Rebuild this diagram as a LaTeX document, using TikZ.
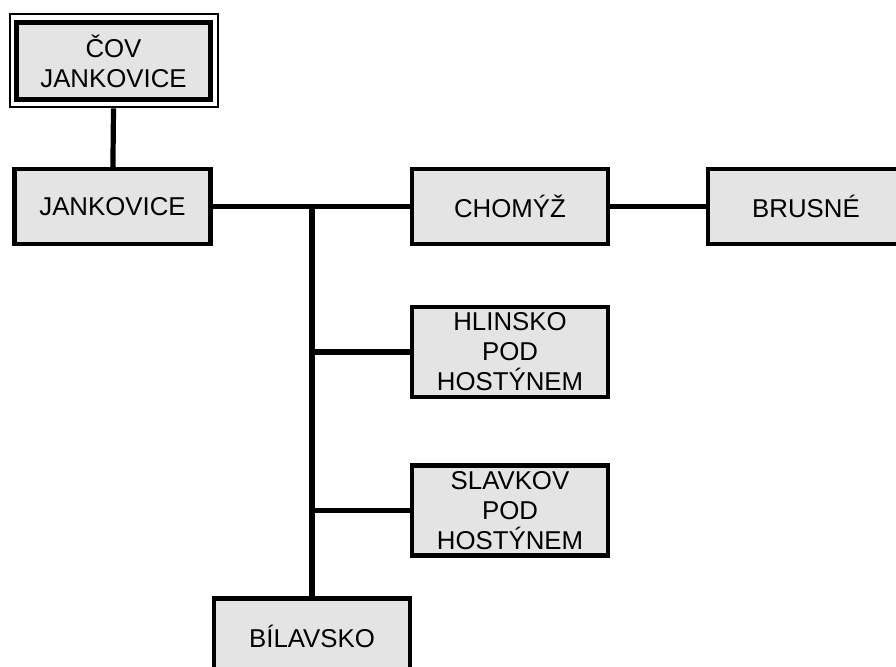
\documentclass[tikz,border=0pt]{standalone}
\usepackage{fontspec}
\setmainfont{Liberation Sans}
\definecolor{boxgray}{HTML}{E4E4E4}

\begin{document}
\begin{tikzpicture}[x=0.5pt, y=-0.5pt]
				\tikzstyle{box}=[draw, line width=2.2pt, fill=boxgray, inner sep=0pt, align=center,
					minimum width=98pt, minimum height=37.5pt, font=\fontsize{12.9}{15}\selectfont]
				\tikzstyle{tallbox}=[box, minimum height=45pt]
				\tikzstyle{link}=[line width=2.6pt]
				\useasboundingbox (0, 0) rectangle (896, 666);
				\clip (0, 0) rectangle (896, 666);
				\node [draw, line width=1.3pt, minimum width=104pt, minimum height=46.5pt] (frame) at (114, 60.5) {};
				\node [box, minimum width=97pt, minimum height=38.5pt] (cov) at (113.5, 61) {ČOV\\JANKOVICE};
				\node [box] (jank) at (112.5, 206.5) {JANKOVICE};
				\node [box] (chom) at (510, 206.5) {CHOMÝŽ};
				\node [box] (brus) at (806, 206.5) {BRUSNÉ};
				\node [tallbox] (hlin) at (510, 352) {HLINSKO\\POD\\HOSTÝNEM};
				\node [tallbox] (slav) at (510, 510.5) {SLAVKOV\\POD\\HOSTÝNEM};
				\node [box] (bila) at (312, 636) {BÍLAVSKO};
				\coordinate (trunk) at (312, 207);
				\draw [link] (frame) -- (jank);
				\draw [link] (jank) -- (chom);
				\draw [link] (chom) -- (brus);
				\draw [link] (trunk) -- (bila);
				\draw [link] (trunk |- hlin.west) -- (hlin);
				\draw [link] (trunk |- slav.west) -- (slav);
		\end{tikzpicture}
\end{document}
